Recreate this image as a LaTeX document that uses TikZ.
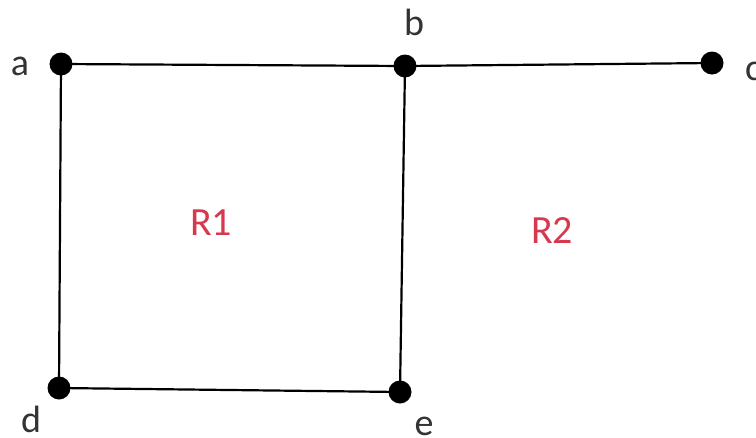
\documentclass[tikz,border=0pt]{standalone}
\usepackage{fontspec}
\setmainfont{Carlito}
\definecolor{regred}{HTML}{D8384E}
\begin{document}
\begin{tikzpicture}[x=1pt,y=-1pt,
  vtx/.style={circle,fill=black,inner sep=0pt,minimum size=23pt},
  edge/.style={line width=2.2pt,black},
  lbl/.style={font=\fontsize{38}{38}\selectfont,text=black!80,inner sep=0pt},
  reg/.style={font=\fontsize{40}{40}\selectfont,text=regred,inner sep=0pt}]
\useasboundingbox (0,0) rectangle (756,437);
\node[vtx] (a) at (61,64) {};
\node[vtx] (b) at (405,66) {};
\node[vtx] (c) at (712,63) {};
\node[vtx] (d) at (59,388) {};
\node[vtx] (e) at (400,392) {};
\draw[edge] (a.center) -- (b.center);
\draw[edge] (b.center) -- (c.center);
\draw[edge] (a.center) -- (d.center);
\draw[edge] (d.center) -- (e.center);
\draw[edge] (b.center) -- (e.center);
\node[lbl,anchor=base] (la) at (20,75) {a};
\node[lbl,anchor=base] (lb) at (414,35) {b};
\node[lbl,anchor=base west] (lc) at (745,80) {c};
\node[lbl,anchor=base] (ld) at (31,432) {d};
\node[lbl,anchor=base] (le) at (424,435) {e};
\node[reg,anchor=base] (r1) at (211,235) {R1};
\node[reg,anchor=base] (r2) at (552,243) {R2};
\end{tikzpicture}
\end{document}
